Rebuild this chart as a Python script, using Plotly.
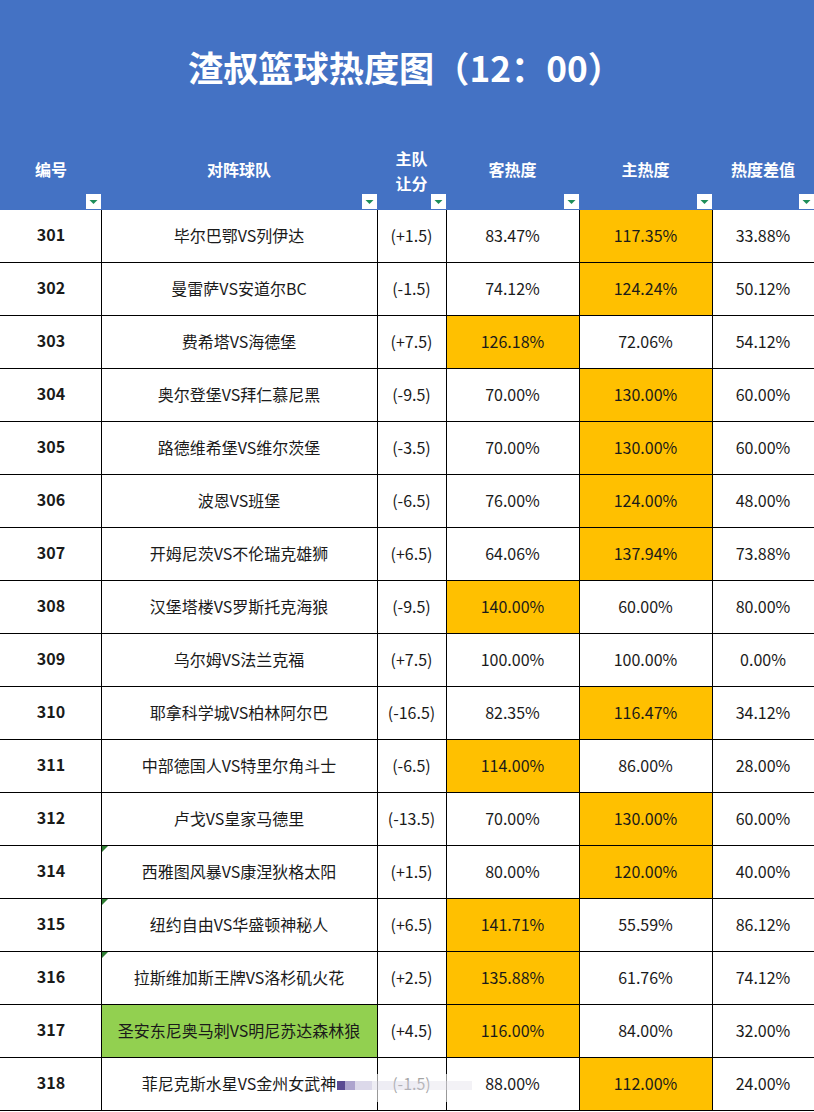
import plotly.graph_objects as go

W, H = 814, 1112
FONT = "Noto Sans CJK SC"
COLORS = ["white", "#FFC000", "#92D050", "#4472C4"]  # z index -> fill
WHITE, ORANGE, GREEN, BLUE = 0, 1, 2, 3

title = "渣叔篮球热度图（12：00）"
headers = ["编号", "对阵球队", "", "客热度", "主热度", "热度差值"]
handicap_header = ["主队", "让分"]
ids = [301, 302, 303, 304, 305, 306, 307, 308, 309, 310, 311, 312, 314, 315, 316, 317, 318]
teams = [
    "毕尔巴鄂VS列伊达", "曼雷萨VS安道尔BC", "费希塔VS海德堡", "奥尔登堡VS拜仁慕尼黑",
    "路德维希堡VS维尔茨堡", "波恩VS班堡", "开姆尼茨VS不伦瑞克雄狮", "汉堡塔楼VS罗斯托克海狼",
    "乌尔姆VS法兰克福", "耶拿科学城VS柏林阿尔巴", "中部德国人VS特里尔角斗士", "卢戈VS皇家马德里",
    "西雅图风暴VS康涅狄格太阳", "纽约自由VS华盛顿神秘人", "拉斯维加斯王牌VS洛杉矶火花",
    "圣安东尼奥马刺VS明尼苏达森林狼", "菲尼克斯水星VS金州女武神",
]
handicap = ["(+1.5)", "(-1.5)", "(+7.5)", "(-9.5)", "(-3.5)", "(-6.5)", "(+6.5)", "(-9.5)", "(+7.5)",
            "(-16.5)", "(-6.5)", "(-13.5)", "(+1.5)", "(+6.5)", "(+2.5)", "(+4.5)", "(-1.5)"]
away = [83.47, 74.12, 126.18, 70.00, 70.00, 76.00, 64.06, 140.00, 100.00,
        82.35, 114.00, 70.00, 80.00, 141.71, 135.88, 116.00, 88.00]
home = [117.35, 124.24, 72.06, 130.00, 130.00, 124.00, 137.94, 60.00, 100.00,
        116.47, 86.00, 130.00, 120.00, 55.59, 61.76, 84.00, 112.00]
diff = [33.88, 50.12, 54.12, 60.00, 60.00, 48.00, 73.88, 80.00, 0.00,
        34.12, 28.00, 60.00, 40.00, 86.12, 74.12, 32.00, 24.00]
green_rows = [317]
note_rows = [314, 315, 316]

col_widths = [102, 276, 69, 133, 133, 102]
title_h = 133
label_h = 77
row_h = 53

x_edges = [0]
for w in col_widths:
    x_edges.append(x_edges[-1] + w)
top = title_h + label_h
y_edges = [top + i * row_h for i in range(len(ids) + 1)]
x_mid = [(a + b) / 2 - 1 for a, b in zip(x_edges, x_edges[1:])]
x_mid[0] += 1
y_mid = [(a + b) / 2 + 1 for a, b in zip(y_edges, y_edges[1:])]

colorscale = [[i / 3, c] for i, c in enumerate(COLORS)]

z = []
for i, num in enumerate(ids):
    z.append([WHITE, GREEN if num in green_rows else WHITE, WHITE,
              ORANGE if away[i] > 100 else WHITE, ORANGE if home[i] > 100 else WHITE, WHITE])

fig = go.Figure()

# body: the gaps let the black background through as cell borders
fig.add_trace(go.Heatmap(x=x_edges, y=y_edges, z=z, colorscale=colorscale, zmin=0, zmax=3,
                         showscale=False, xgap=1, ygap=1, hoverinfo="skip"))
# blue header block
fig.add_trace(go.Heatmap(x=x_edges, y=[0, top], z=[[BLUE] * 6], colorscale=colorscale, zmin=0, zmax=3,
                         showscale=False, hoverinfo="skip"))

columns = [
    teams,
    handicap,
    [f"{v:.2f}%" for v in away],
    [f"{v:.2f}%" for v in home],
    [f"{v:.2f}%" for v in diff],
]
for mid, col in zip(x_mid[1:], columns):
    fig.add_trace(go.Scatter(x=[mid] * len(col), y=y_mid, text=col, mode="text", hoverinfo="skip",
                             textfont=dict(family=FONT, size=16, color="#1a1a1a")))
fig.add_trace(go.Scatter(x=[x_mid[0]] * len(ids), y=[y - 1 for y in y_mid], text=[f"<b>{n}</b>" for n in ids],
                         mode="text", hoverinfo="skip", textfont=dict(family=FONT, size=16, color="#1a1a1a")))
fig.add_trace(go.Scatter(x=x_mid, y=[172] * 6, text=[f"<b>{h}</b>" for h in headers], mode="text",
                         hoverinfo="skip", textfont=dict(family=FONT, size=16, color="white")))
# the two-line header
fig.add_trace(go.Scatter(x=[x_mid[2]] * 2, y=[161, 186], text=[f"<b>{h}</b>" for h in handicap_header], mode="text",
                         hoverinfo="skip", textfont=dict(family=FONT, size=16, color="white")))

# filter buttons in the header
for edge in x_edges[1:]:
    fig.add_shape(type="rect", x0=edge - 16, x1=edge - 1, y0=top - 16, y1=top - 1, fillcolor="white", line_width=0)
    mid = edge - 8.5
    fig.add_shape(type="path", fillcolor="#1E8E5A", line_width=0,
                  path=f"M {mid - 4} {top - 10} L {mid + 4} {top - 10} L {mid} {top - 6} Z")

# little green comment corners
for r in note_rows:
    y0 = y_edges[ids.index(r)]
    x0 = x_edges[1]
    fig.add_shape(type="path", fillcolor="#2E7D32", line_width=0,
                  path=f"M {x0} {y0} L {x0 + 6} {y0} L {x0} {y0 + 6} Z")

# keep the black background from showing under the last row
fig.add_shape(type="rect", x0=0, x1=W, y0=y_edges[-1], y1=H, fillcolor="white", line_width=0)

# blurred watermark over the last row
fig.add_shape(type="rect", x0=338, x1=476, y0=1074, y1=1102, fillcolor="white", opacity=0.6, line_width=0)
for x0, x1, color, alpha in [(337, 345, "#3d2a80", 0.85), (345, 355, "#6a5aa5", 0.55), (355, 372, "#a79fcb", 0.4),
                             (372, 420, "#cfcbe0", 0.35), (420, 472, "#dddbe6", 0.35)]:
    fig.add_shape(type="rect", x0=x0, x1=x1, y0=1081, y1=1090, fillcolor=color, opacity=alpha, line_width=0)

fig.add_annotation(text=f"<b>{title}</b>", x=405, y=66, showarrow=False,
                   font=dict(family=FONT, size=35.2, color="white"))

fig.update_xaxes(range=[0, W], visible=False, fixedrange=True)
fig.update_yaxes(range=[H, 0], visible=False, fixedrange=True)
fig.update_layout(width=W, height=H, margin=dict(l=0, r=0, t=0, b=0),
                  paper_bgcolor="white", plot_bgcolor="black", showlegend=False)
fig.write_html("out.html", config={"displayModeBar": False},
               post_script="document.body.style.margin='0';document.body.style.overflow='hidden';")
